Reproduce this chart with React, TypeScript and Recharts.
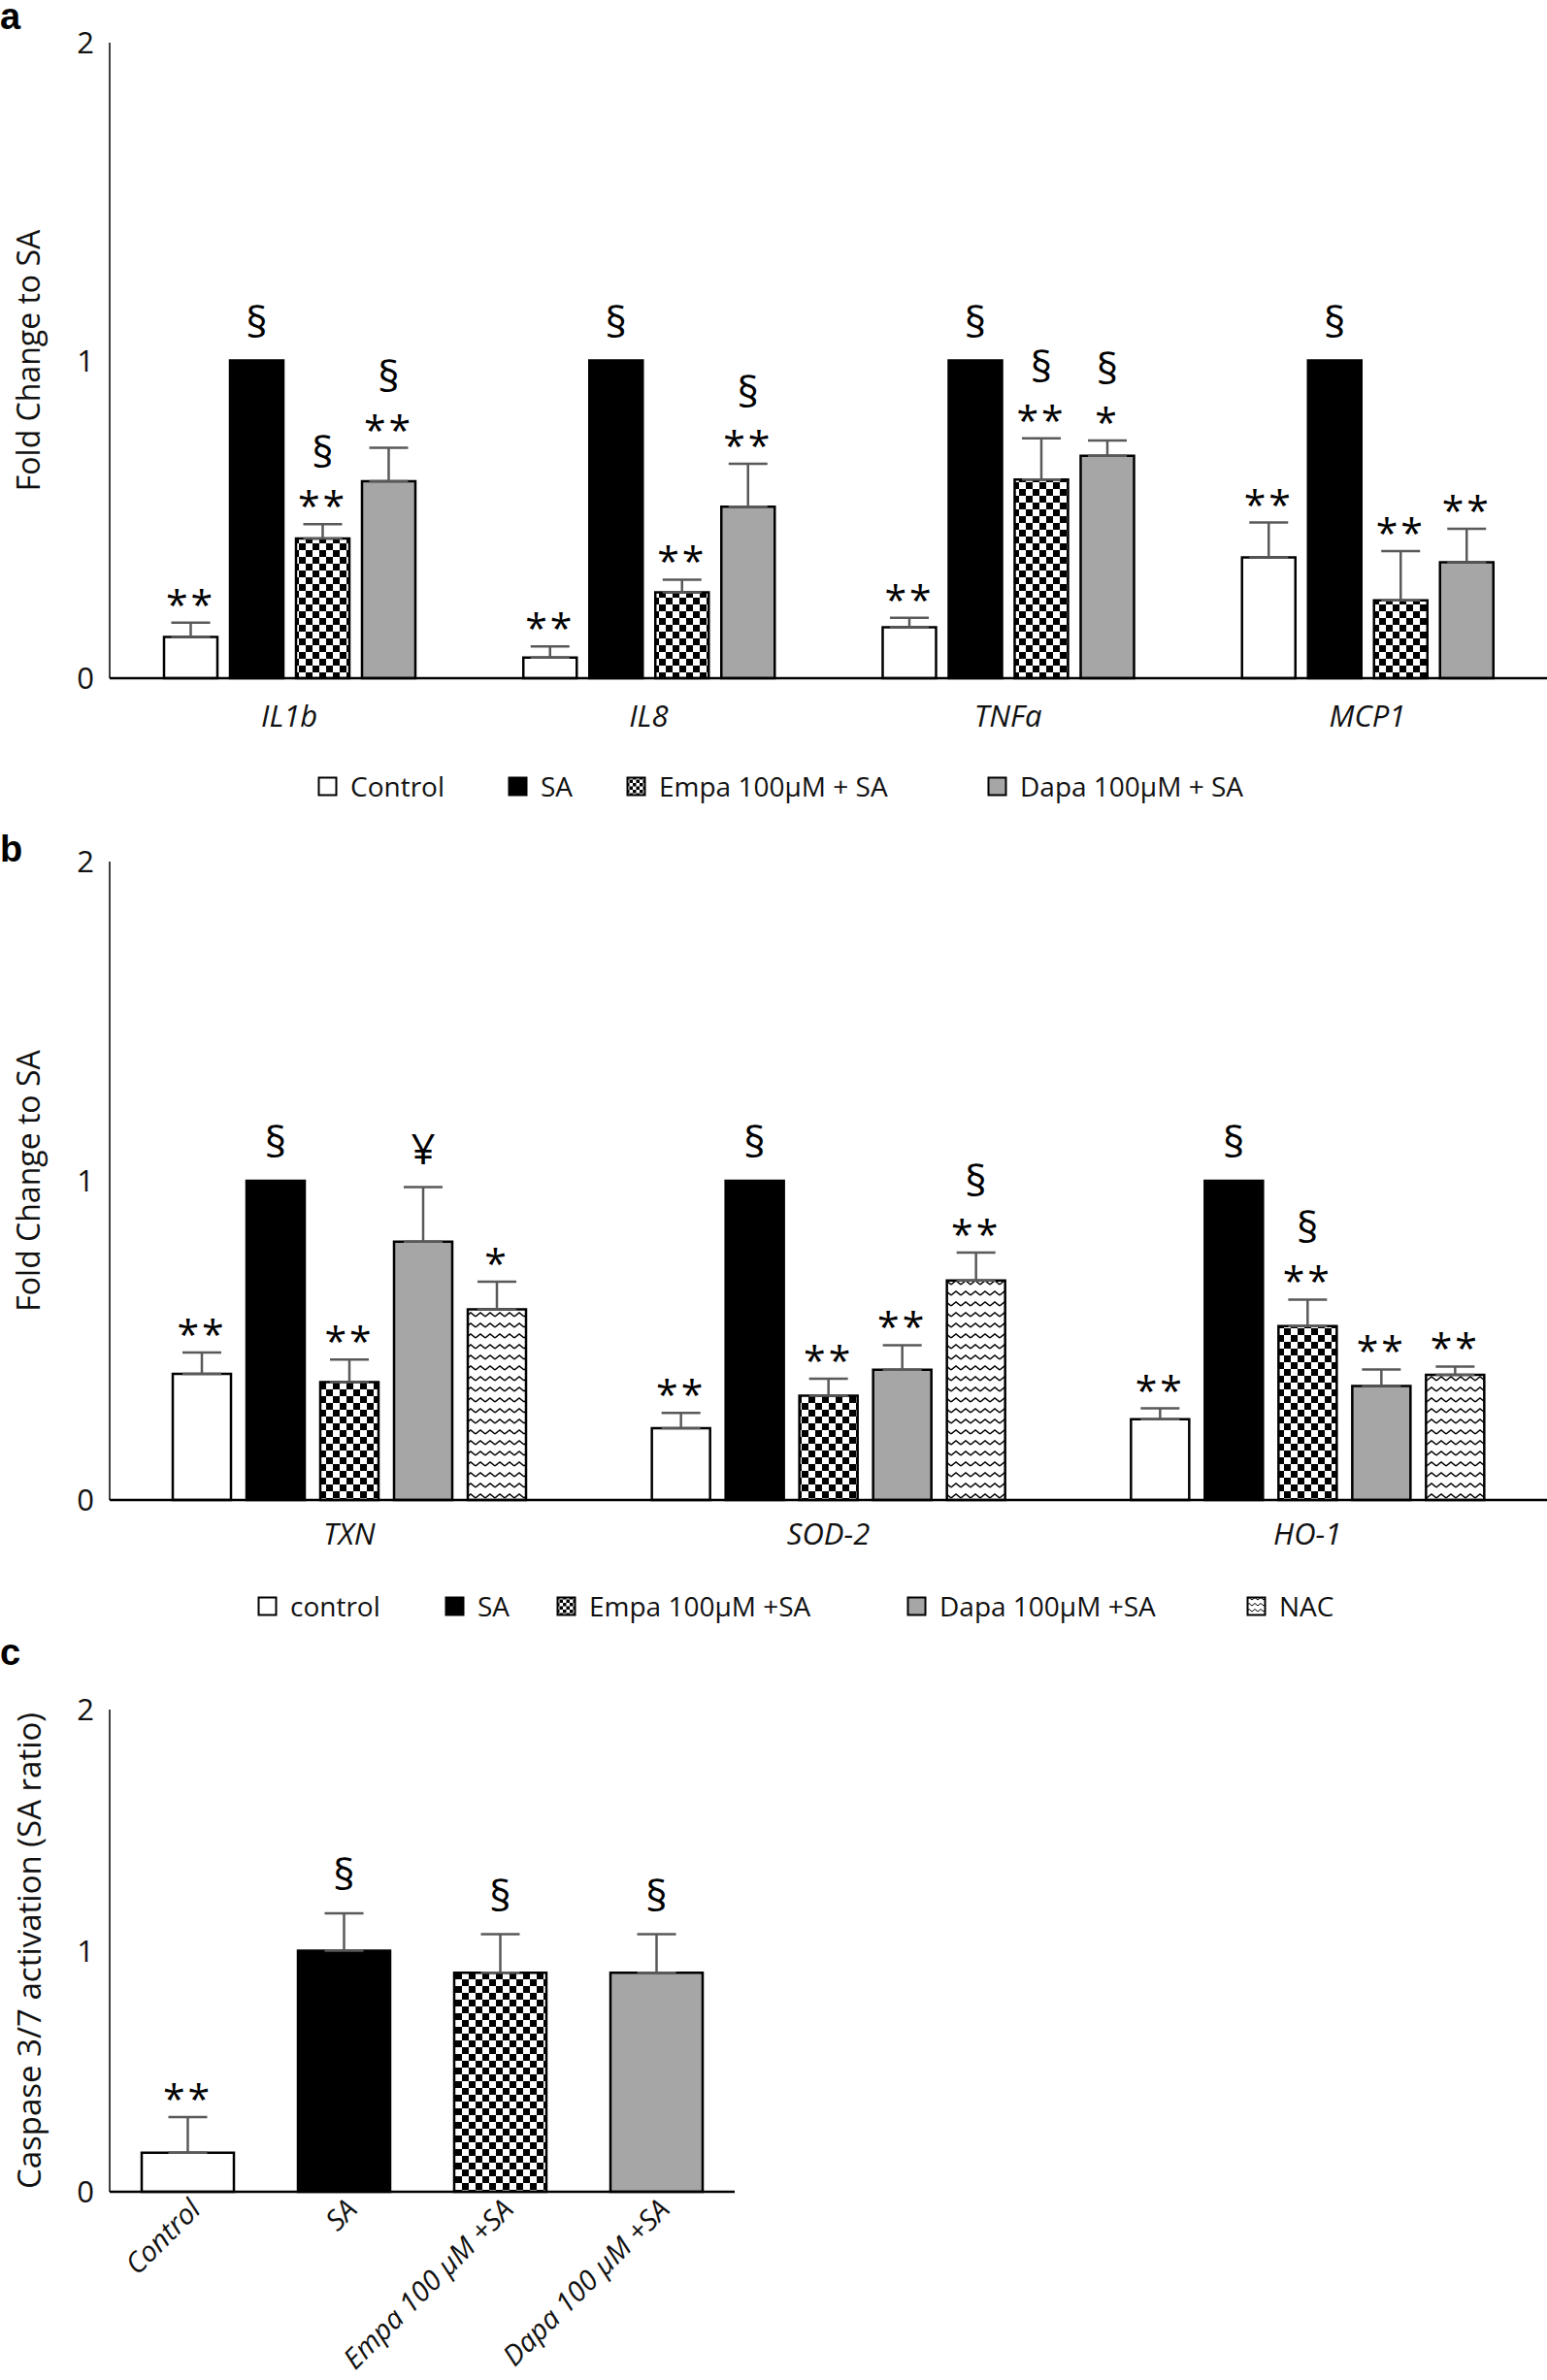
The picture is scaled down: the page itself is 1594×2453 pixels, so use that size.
import React from 'react'
import { BarChart, Bar, XAxis, YAxis, ErrorBar, LabelList, Cell } from 'recharts'

const FONT = '"Open Sans", sans-serif'
const GREY = '#a6a6a6'
const ERR = '#595959'

// ---- panel a: inflammatory genes ----
const A_GENES = ['IL1b', 'IL8', 'TNFa', 'MCP1']
const A_CONTROL = [0.13, 0.065, 0.16, 0.38]
const A_CONTROL_ERR = [0.045, 0.035, 0.03, 0.11]
const A_SA = [1, 1, 1, 1]
const A_EMPA = [0.44, 0.27, 0.625, 0.245]
const A_EMPA_ERR = [0.045, 0.04, 0.13, 0.155]
const A_DAPA = [0.62, 0.54, 0.7, 0.365]
const A_DAPA_ERR = [0.105, 0.135, 0.048, 0.105]
const A_STARS = {
  control: ['**', '**', '**', '**'],
  sa: ['', '', '', ''],
  empa: ['**', '**', '**', '**'],
  dapa: ['**', '**', '*', '**'],
}
const A_SYMS = {
  control: ['', '', '', ''],
  sa: ['§', '§', '§', '§'],
  empa: ['§', '', '§', ''],
  dapa: ['§', '§', '§', ''],
}
const A_LEGEND = ['Control', 'SA', 'Empa 100µM + SA', 'Dapa 100µM + SA']

// ---- panel b: antioxidant genes ----
const B_GENES = ['TXN', 'SOD-2', 'HO-1']
const B_CONTROL = [0.395, 0.225, 0.253]
const B_CONTROL_ERR = [0.067, 0.048, 0.034]
const B_SA = [1, 1, 1]
const B_EMPA = [0.369, 0.327, 0.545]
const B_EMPA_ERR = [0.071, 0.053, 0.083]
const B_DAPA = [0.809, 0.408, 0.357]
const B_DAPA_ERR = [0.171, 0.077, 0.052]
const B_NAC = [0.597, 0.688, 0.392]
const B_NAC_ERR = [0.087, 0.087, 0.026]
const B_STARS = {
  control: ['**', '**', '**'],
  sa: ['', '', ''],
  empa: ['**', '**', '**'],
  dapa: ['', '**', '**'],
  nac: ['*', '**', '**'],
}
const B_SYMS = {
  control: ['', '', ''],
  sa: ['§', '§', '§'],
  empa: ['', '', '§'],
  dapa: ['¥', '', ''],
  nac: ['', '§', ''],
}
const B_LEGEND = ['control', 'SA', 'Empa 100µM +SA', 'Dapa 100µM +SA', 'NAC']

// ---- panel c: caspase 3/7 ----
const C_GROUPS = ['Control', 'SA', 'Empa 100 µM +SA', 'Dapa 100 µM +SA']
const C_VALUES = [0.162, 1.0, 0.908, 0.908]
const C_ERR = [0.148, 0.155, 0.16, 0.16]
const C_STARS = ['**', '', '', '']
const C_SYMS = ['', '§', '§', '§']

const Y_TICKS = [0, 1, 2]

const tableA = A_GENES.map((g, i) => ({
  gene: g,
  control: A_CONTROL[i],
  sa: A_SA[i],
  empa: A_EMPA[i],
  dapa: A_DAPA[i],
  controlErr: [0, A_CONTROL_ERR[i]],
  empaErr: [0, A_EMPA_ERR[i]],
  dapaErr: [0, A_DAPA_ERR[i]],
}))

const tableB = B_GENES.map((g, i) => ({
  gene: g,
  control: B_CONTROL[i],
  sa: B_SA[i],
  empa: B_EMPA[i],
  dapa: B_DAPA[i],
  nac: B_NAC[i],
  controlErr: [0, B_CONTROL_ERR[i]],
  empaErr: [0, B_EMPA_ERR[i]],
  dapaErr: [0, B_DAPA_ERR[i]],
  nacErr: [0, B_NAC_ERR[i]],
}))

const tableC = C_GROUPS.map((g, i) => ({ group: g, value: C_VALUES[i], err: [0, C_ERR[i]] }))

// stars just above the error bar, symbol above that
const marks = (stars: string[], syms: string[], errs: number[] | null) => (props: any) => {
  const vb = props.viewBox || {}
  const x = props.x ?? vb.x
  const y = props.y ?? vb.y
  const w = props.width ?? vb.width
  const h = Math.abs(props.height ?? vb.height)
  const i = props.index
  const v = Number(props.value)
  const e = errs ? errs[i] : 0
  const top = y - (v ? (e * h) / v : 0)
  const cx = x + w / 2
  const st = stars[i]
  const sy = syms[i]
  return (
    <g key={`m-${i}`}>
      {st && (
        <text x={cx} y={top - 4} textAnchor="middle" fontSize={41} fontFamily={FONT} fill="#000" letterSpacing={3}>
          {st}
        </text>
      )}
      {sy && (
        <text x={cx} y={st ? top - 58 : top - 24} textAnchor="middle" fontSize={44} fontFamily={FONT} fill="#000">
          {sy}
        </text>
      )}
    </g>
  )
}

const Patterns = ({ id }: { id: string }) => (
  <defs>
    <pattern id={`check-${id}`} width="14" height="14" patternUnits="userSpaceOnUse">
      <rect width="14" height="14" fill="#fff" />
      <rect width="7" height="7" fill="#000" />
      <rect x="7" y="7" width="7" height="7" fill="#000" />
    </pattern>
    <pattern id={`wave-${id}`} width="10" height="11" patternUnits="userSpaceOnUse">
      <rect width="10" height="11" fill="#fff" />
      <path d="M0,7 L5,3 L10,7" stroke="#000" strokeWidth="1.4" fill="none" />
    </pattern>
  </defs>
)

const axisTick = { fontSize: 31, fill: '#111', fontFamily: FONT }
const geneTick = { fontSize: 31, fill: '#111', fontFamily: FONT, fontStyle: 'italic' as const }

const Swatch = ({ kind, id }: { kind: string; id: string }) => (
  <svg width={21} height={21} style={{ display: 'block' }}>
    <defs>
      <pattern id={`sw-check-${id}`} width="7" height="7" patternUnits="userSpaceOnUse">
        <rect width="7" height="7" fill="#fff" />
        <rect width="3.5" height="3.5" fill="#000" />
        <rect x="3.5" y="3.5" width="3.5" height="3.5" fill="#000" />
      </pattern>
      <pattern id={`sw-wave-${id}`} width="6" height="6" patternUnits="userSpaceOnUse">
        <rect width="6" height="6" fill="#fff" />
        <path d="M0,4 L3,1.5 L6,4" stroke="#000" strokeWidth="1" fill="none" />
      </pattern>
    </defs>
    <rect
      x={1.5}
      y={1.5}
      width={18}
      height={18}
      stroke="#000"
      strokeWidth={2}
      fill={
        kind === 'control' ? '#fff' : kind === 'sa' ? '#000' : kind === 'empa' ? `url(#sw-check-${id})` : kind === 'dapa' ? GREY : `url(#sw-wave-${id})`
      }
    />
  </svg>
)

const LegendRow = ({ labels, kinds, lefts, top, id }: { labels: string[]; kinds: string[]; lefts: number[]; top: number; id: string }) => (
  <>
    {labels.map((l, i) => (
      <div
        key={l}
        style={{
          position: 'absolute',
          left: lefts[i],
          top: top - 18,
          height: 36,
          display: 'flex',
          alignItems: 'center',
          gap: 13,
          fontFamily: FONT,
          fontSize: 28,
          color: '#111',
          whiteSpace: 'nowrap',
        }}
      >
        <Swatch kind={kinds[i]} id={`${id}${i}`} />
        <span>{l}</span>
      </div>
    ))}
  </>
)

const SlantTick = (props: any) => {
  const { x, y, payload } = props
  const ax = x + 15
  const ay = y + 20
  return (
    <text
      x={ax}
      y={ay}
      transform={`rotate(-45 ${ax} ${ay})`}
      textAnchor="end"
      fontSize={29}
      fontStyle="italic"
      fontFamily={FONT}
      fill="#111"
    >
      {payload.value}
    </text>
  )
}

const panelLabel = (top: number): React.CSSProperties => ({
  position: 'absolute',
  left: 0,
  top,
  fontFamily: '"Liberation Sans", Arial, sans-serif',
  fontWeight: 700,
  fontSize: 38,
  lineHeight: '38px',
})

export default function App() {
  return (
    <div style={{ position: 'absolute', left: 0, top: 0, width: 1594, height: 2453, background: '#fff' }}>
      <div style={panelLabel(-2)}>a</div>
      <div style={panelLabel(856)}>b</div>
      <div style={panelLabel(1684)}>c</div>

      {/* panel a */}
      <div style={{ position: 'absolute', left: 0, top: 0 }}>
        <BarChart width={1594} height={780} data={tableA} margin={{ top: 44, right: 0, bottom: 0, left: 0 }} barCategoryGap={56} barGap={13}>
          <Patterns id="a" />
          <XAxis dataKey="gene" tick={geneTick} tickLine={false} tickSize={0} tickMargin={28} height={81} axisLine={{ stroke: '#000', strokeWidth: 2.5 }} />
          <YAxis
            domain={[0, 2]}
            ticks={Y_TICKS}
            width={113}
            tick={axisTick}
            tickLine={false}
            tickSize={0}
            tickMargin={16}
            axisLine={{ stroke: '#000', strokeWidth: 1.5 }}
            label={{ value: 'Fold Change to SA', angle: -90, position: 'insideLeft', offset: 30, style: { textAnchor: 'middle', fontSize: 32, fontFamily: FONT, fill: '#111' } }}
          />
          <Bar dataKey="control" fill="#fff" stroke="#000" strokeWidth={2.5} isAnimationActive={false}>
            <ErrorBar dataKey="controlErr" width={20} stroke={ERR} strokeWidth={2.5} direction="y" />
            <LabelList dataKey="control" content={marks(A_STARS.control, A_SYMS.control, A_CONTROL_ERR)} />
          </Bar>
          <Bar dataKey="sa" fill="#000" stroke="#000" strokeWidth={2.5} isAnimationActive={false}>
            <LabelList dataKey="sa" content={marks(A_STARS.sa, A_SYMS.sa, null)} />
          </Bar>
          <Bar dataKey="empa" fill="url(#check-a)" stroke="#000" strokeWidth={2.5} isAnimationActive={false}>
            <ErrorBar dataKey="empaErr" width={20} stroke={ERR} strokeWidth={2.5} direction="y" />
            <LabelList dataKey="empa" content={marks(A_STARS.empa, A_SYMS.empa, A_EMPA_ERR)} />
          </Bar>
          <Bar dataKey="dapa" fill={GREY} stroke="#000" strokeWidth={2.5} isAnimationActive={false}>
            <ErrorBar dataKey="dapaErr" width={20} stroke={ERR} strokeWidth={2.5} direction="y" />
            <LabelList dataKey="dapa" content={marks(A_STARS.dapa, A_SYMS.dapa, A_DAPA_ERR)} />
          </Bar>
        </BarChart>
      </div>
      <LegendRow labels={A_LEGEND} kinds={['control', 'sa', 'empa', 'dapa']} lefts={[327, 523, 645, 1017]} top={810} id="la" />

      {/* panel b */}
      <div style={{ position: 'absolute', left: 0, top: 844 }}>
        <BarChart width={1594} height={783} data={tableB} margin={{ top: 44, right: 0, bottom: 0, left: 0 }} barCategoryGap={65} barGap={16}>
          <Patterns id="b" />
          <XAxis dataKey="gene" tick={geneTick} tickLine={false} tickSize={0} tickMargin={24} height={81} axisLine={{ stroke: '#000', strokeWidth: 2.5 }} />
          <YAxis
            domain={[0, 2]}
            ticks={Y_TICKS}
            width={113}
            tick={axisTick}
            tickLine={false}
            tickSize={0}
            tickMargin={16}
            axisLine={{ stroke: '#000', strokeWidth: 1.5 }}
            label={{ value: 'Fold Change to SA', angle: -90, position: 'insideLeft', offset: 30, style: { textAnchor: 'middle', fontSize: 32, fontFamily: FONT, fill: '#111' } }}
          />
          <Bar dataKey="control" fill="#fff" stroke="#000" strokeWidth={2.5} isAnimationActive={false}>
            <ErrorBar dataKey="controlErr" width={20} stroke={ERR} strokeWidth={2.5} direction="y" />
            <LabelList dataKey="control" content={marks(B_STARS.control, B_SYMS.control, B_CONTROL_ERR)} />
          </Bar>
          <Bar dataKey="sa" fill="#000" stroke="#000" strokeWidth={2.5} isAnimationActive={false}>
            <LabelList dataKey="sa" content={marks(B_STARS.sa, B_SYMS.sa, null)} />
          </Bar>
          <Bar dataKey="empa" fill="url(#check-b)" stroke="#000" strokeWidth={2.5} isAnimationActive={false}>
            <ErrorBar dataKey="empaErr" width={20} stroke={ERR} strokeWidth={2.5} direction="y" />
            <LabelList dataKey="empa" content={marks(B_STARS.empa, B_SYMS.empa, B_EMPA_ERR)} />
          </Bar>
          <Bar dataKey="dapa" fill={GREY} stroke="#000" strokeWidth={2.5} isAnimationActive={false}>
            <ErrorBar dataKey="dapaErr" width={20} stroke={ERR} strokeWidth={2.5} direction="y" />
            <LabelList dataKey="dapa" content={marks(B_STARS.dapa, B_SYMS.dapa, B_DAPA_ERR)} />
          </Bar>
          <Bar dataKey="nac" fill="url(#wave-b)" stroke="#000" strokeWidth={2.5} isAnimationActive={false}>
            <ErrorBar dataKey="nacErr" width={20} stroke={ERR} strokeWidth={2.5} direction="y" />
            <LabelList dataKey="nac" content={marks(B_STARS.nac, B_SYMS.nac, B_NAC_ERR)} />
          </Bar>
        </BarChart>
      </div>
      <LegendRow labels={B_LEGEND} kinds={['control', 'sa', 'empa', 'dapa', 'nac']} lefts={[265, 458, 573, 934, 1284]} top={1655} id="lb" />

      {/* panel c */}
      <div style={{ position: 'absolute', left: 0, top: 1718 }}>
        <BarChart width={760} height={731} data={tableC} margin={{ top: 44, right: 3, bottom: 0, left: 0 }} barCategoryGap={33}>
          <Patterns id="c" />
          <XAxis dataKey="group" tick={<SlantTick />} interval={0} tickLine={false} tickSize={0} tickMargin={0} height={190} axisLine={{ stroke: '#000', strokeWidth: 2.5 }} />
          <YAxis
            domain={[0, 2]}
            ticks={Y_TICKS}
            width={113}
            tick={axisTick}
            tickLine={false}
            tickSize={0}
            tickMargin={16}
            axisLine={{ stroke: '#000', strokeWidth: 1.5 }}
            label={{ value: 'Caspase 3/7 activation (SA ratio)', angle: -90, position: 'insideLeft', offset: 30, style: { textAnchor: 'middle', fontSize: 33, fontFamily: FONT, fill: '#111' } }}
          />
          <Bar dataKey="value" stroke="#000" strokeWidth={2.5} isAnimationActive={false}>
            {tableC.map((d, i) => (
              <Cell key={d.group} fill={['#fff', '#000', 'url(#check-c)', GREY][i]} />
            ))}
            <ErrorBar dataKey="err" width={20} stroke={ERR} strokeWidth={2.5} direction="y" />
            <LabelList dataKey="value" content={marks(C_STARS, C_SYMS, C_ERR)} />
          </Bar>
        </BarChart>
      </div>
    </div>
  )
}
